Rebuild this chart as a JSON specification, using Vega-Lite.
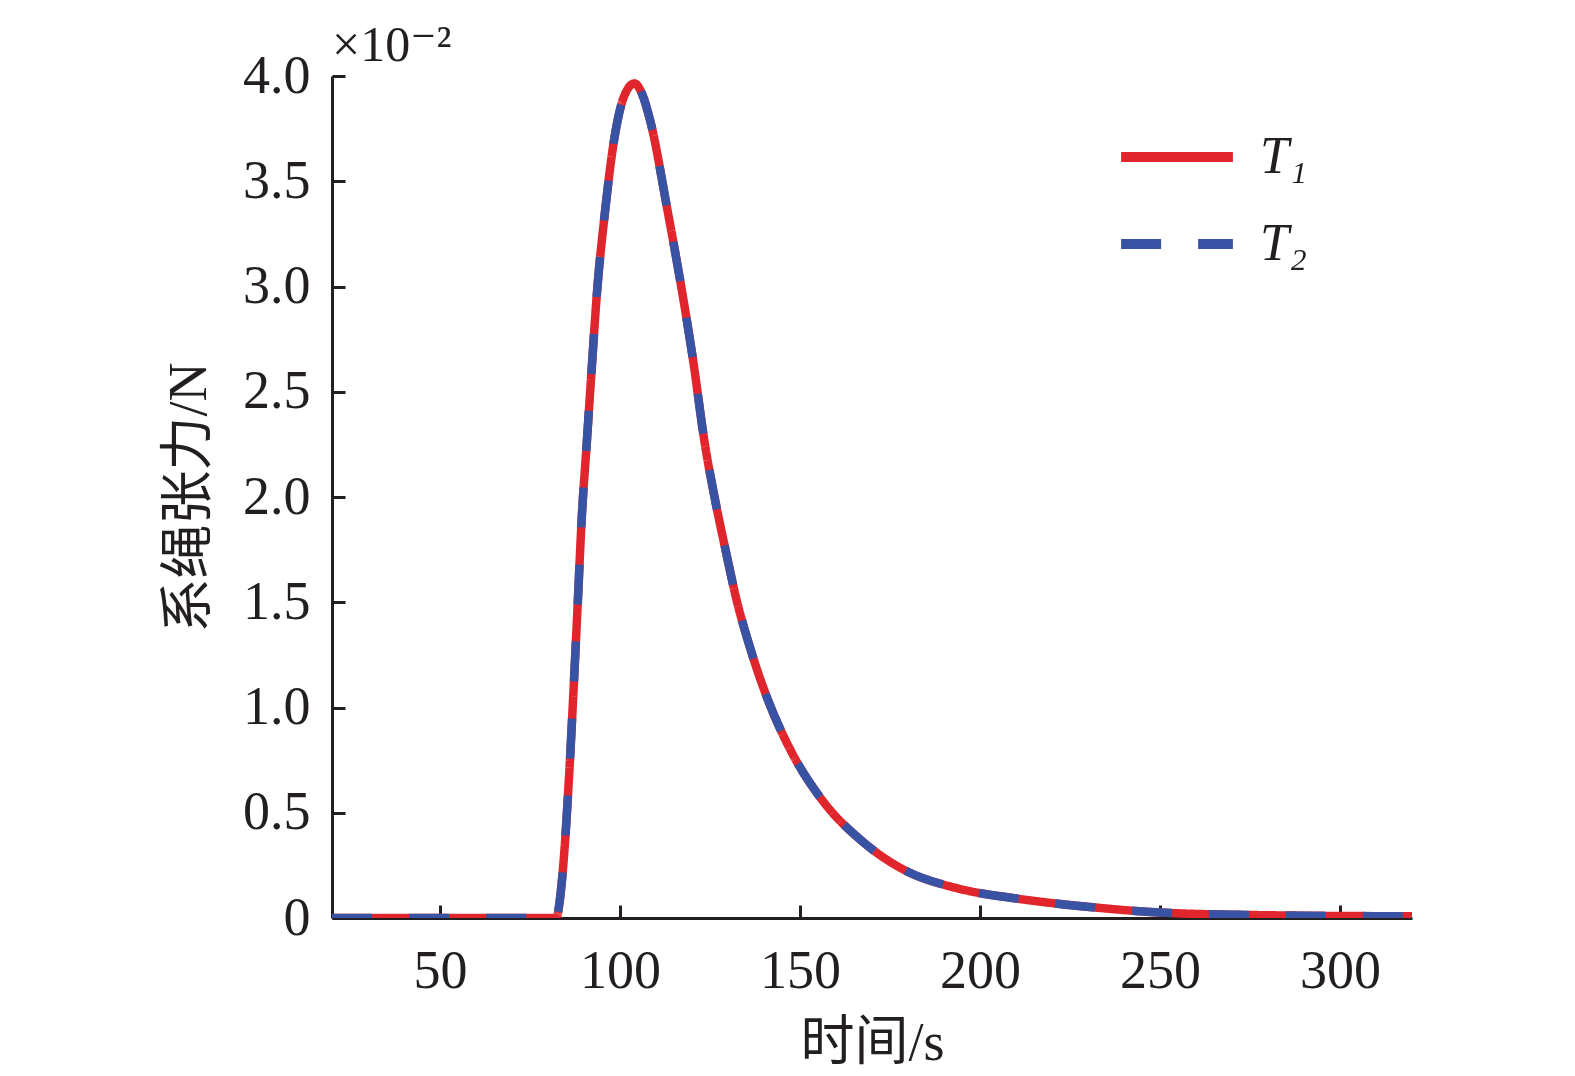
{
  "$schema": "https://vega.github.io/schema/vega-lite/v6.json",
  "width": 1080,
  "height": 842,
  "autosize": "none",
  "padding": {"left": 332, "top": 76, "right": 163, "bottom": 158},
  "background": "white",
  "title": {
    "text": "×10⁻²",
    "anchor": "start",
    "frame": "group",
    "font": "Liberation Serif, DejaVu Serif",
    "fontSize": 50,
    "fontWeight": "normal",
    "color": "#231f20",
    "offset": -22
  },
  "config": {
    "view": {"stroke": null},
    "axis": {
      "domainColor": "#231f20",
      "domainWidth": 3,
      "tickColor": "#231f20",
      "tickWidth": 3,
      "tickSize": -13,
      "grid": false,
      "labelFont": "Liberation Serif",
      "labelFontSize": 54,
      "labelColor": "#231f20",
      "titleFont": "Liberation Serif, Noto Sans CJK SC",
      "titleFontSize": 54,
      "titleFontWeight": "normal",
      "titleColor": "#231f20"
    }
  },
  "data": {
    "values": [
      {"t": 20, "T₁": 0, "T₂": 0},
      {"t": 50, "T₁": 0, "T₂": 0},
      {"t": 82.4, "T₁": 0, "T₂": 0},
      {"t": 83.0, "T₁": 0.05, "T₂": 0.05},
      {"t": 84.6, "T₁": 0.33, "T₂": 0.33},
      {"t": 86.0, "T₁": 0.72, "T₂": 0.72},
      {"t": 87.2, "T₁": 1.12, "T₂": 1.12},
      {"t": 88.3, "T₁": 1.51, "T₂": 1.51},
      {"t": 89.4, "T₁": 1.91, "T₂": 1.91},
      {"t": 90.7, "T₁": 2.24, "T₂": 2.24},
      {"t": 92.1, "T₁": 2.6, "T₂": 2.6},
      {"t": 93.6, "T₁": 2.97, "T₂": 2.97},
      {"t": 95.8, "T₁": 3.35, "T₂": 3.35},
      {"t": 98.3, "T₁": 3.69, "T₂": 3.69},
      {"t": 100.3, "T₁": 3.86, "T₂": 3.86},
      {"t": 102.2, "T₁": 3.94, "T₂": 3.94},
      {"t": 104.0, "T₁": 3.965, "T₂": 3.965},
      {"t": 106.0, "T₁": 3.92, "T₂": 3.92},
      {"t": 108.5, "T₁": 3.78, "T₂": 3.78},
      {"t": 113.0, "T₁": 3.38, "T₂": 3.38},
      {"t": 116.7, "T₁": 3.03, "T₂": 3.03},
      {"t": 120.3, "T₁": 2.65, "T₂": 2.65},
      {"t": 123.5, "T₁": 2.26, "T₂": 2.26},
      {"t": 126.6, "T₁": 1.97, "T₂": 1.97},
      {"t": 129.3, "T₁": 1.75, "T₂": 1.75},
      {"t": 132.4, "T₁": 1.51, "T₂": 1.51},
      {"t": 136.2, "T₁": 1.28, "T₂": 1.28},
      {"t": 141.0, "T₁": 1.04, "T₂": 1.04},
      {"t": 147.3, "T₁": 0.8, "T₂": 0.8},
      {"t": 155.9, "T₁": 0.566, "T₂": 0.566},
      {"t": 167.6, "T₁": 0.36, "T₂": 0.36},
      {"t": 178.2, "T₁": 0.235, "T₂": 0.235},
      {"t": 194.0, "T₁": 0.14, "T₂": 0.14},
      {"t": 210.0, "T₁": 0.093, "T₂": 0.093},
      {"t": 232.0, "T₁": 0.05, "T₂": 0.05},
      {"t": 250.0, "T₁": 0.026, "T₂": 0.026},
      {"t": 280.0, "T₁": 0.013, "T₂": 0.013},
      {"t": 320.0, "T₁": 0.008, "T₂": 0.008}
    ]
  },
  "transform": [
    {"fold": ["T₁", "T₂"], "as": ["series", "value"]}
  ],
  "mark": {"type": "line", "strokeWidth": 8.5, "interpolate": "monotone", "clip": true},
  "encoding": {
    "x": {
      "field": "t",
      "type": "quantitative",
      "scale": {"domain": [20, 320], "nice": false, "zero": false},
      "axis": {
        "values": [50, 100, 150, 200, 250, 300],
        "title": "时间/s",
        "labelPadding": 39,
        "titlePadding": 18
      }
    },
    "y": {
      "field": "value",
      "type": "quantitative",
      "scale": {"domain": [0, 4], "nice": false},
      "axis": {
        "values": [0, 0.5, 1, 1.5, 2, 2.5, 3, 3.5, 4],
        "labelExpr": "datum.value == 0 ? '0' : format(datum.value, '.1f')",
        "title": "系绳张力/N",
        "labelPadding": 35,
        "titlePadding": 26
      }
    },
    "color": {
      "field": "series",
      "type": "nominal",
      "scale": {"domain": ["T₁", "T₂"], "range": ["#e0262c", "#3953a4"]},
      "legend": {
        "title": null,
        "orient": "none",
        "legendX": 784,
        "legendY": 20,
        "symbolType": "stroke",
        "symbolSize": 12500,
        "symbolStrokeWidth": 10,
        "labelFont": "Liberation Serif",
        "labelFontStyle": "italic",
        "labelFontSize": 52,
        "labelColor": "#231f20",
        "labelOffset": 22,
        "rowPadding": -26
      }
    },
    "strokeDash": {
      "field": "series",
      "type": "nominal",
      "scale": {"domain": ["T₁", "T₂"], "range": [[1, 0], [40, 37]]},
      "legend": null
    }
  }
}
